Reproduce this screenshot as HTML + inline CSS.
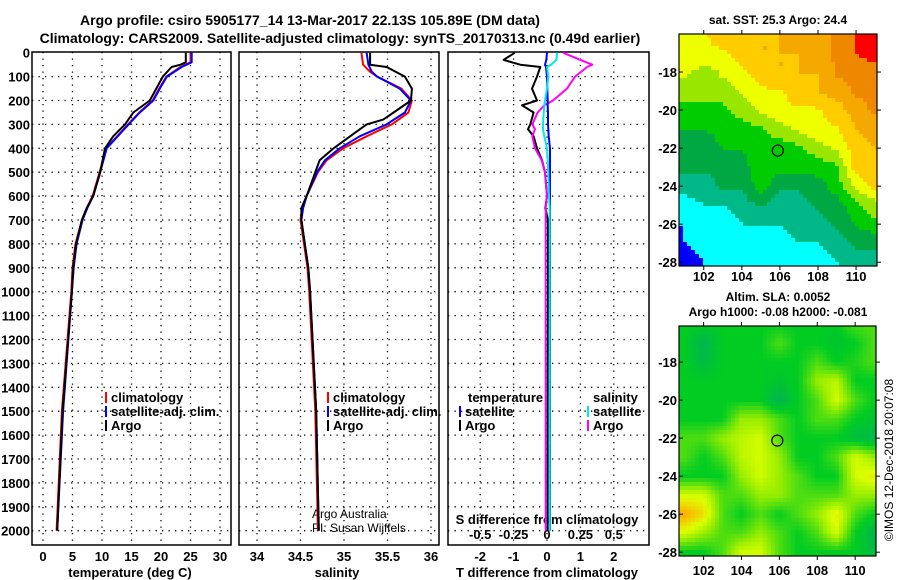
<!DOCTYPE html>
<html><head><meta charset="utf-8"><style>
body{margin:0;background:#fff}
svg{display:block;font-family:"Liberation Sans",sans-serif;font-weight:bold}
</style></head><body>
<svg id="c" width="900" height="580" viewBox="0 0 900 580" xmlns="http://www.w3.org/2000/svg">
<rect width="900" height="580" fill="#fff"/>
<text x="310" y="25" font-size="14" text-anchor="middle">Argo profile: csiro 5905177_14 13-Mar-2017 22.13S 105.89E (DM data)</text>
<text x="340" y="43" font-size="14" text-anchor="middle">Climatology: CARS2009. Satellite-adjusted climatology: synTS_20170313.nc (0.49d earlier)</text>
<text x="778" y="24" font-size="12" text-anchor="middle">sat. SST: 25.3 Argo: 24.4</text>
<text x="778" y="301" font-size="12" text-anchor="middle">Altim. SLA: 0.0052</text>
<text x="778" y="316" font-size="12" text-anchor="middle">Argo h1000: -0.08 h2000: -0.081</text>
<text transform="translate(893,460) rotate(-90)" font-size="12" font-weight="normal" text-anchor="middle">©IMOS 12-Dec-2018 20:07:08</text>
<g id="g"></g>
</svg>
<script>
// ---- data ----
const depthTicks=[0,100,200,300,400,500,600,700,800,900,1000,1100,1200,1300,1400,1500,1600,1700,1800,1900,2000];
const tTicks=[0,5,10,15,20,25,30];
const sTicks=[34,34.5,35,35.5,36];
const sTickLabels=["34","34.5","35","35.5","36"];
const dTicks=[-2,-1,0,1,2];
const dsTicks=[-0.5,-0.25,0,0.25,0.5];
const dsTickLabels=["-0.5","-0.25","0","0.25","0.5"];
const argoTDepth=[0,40,50,60,100,150,200,250,300,350,400,500,600,650,700,800,900,1000,1500,2000];
const argoT=[24.2,24.2,23.3,21.8,20.3,19.2,18.1,15.3,13.9,11.9,10.5,9.7,8.5,7.4,6.6,5.6,5.1,4.9,3.3,2.4];
const satTDepth=[0,40,60,100,150,200,250,300,400,500,600,650,700,800,900,1000,1500,2000];
const satT=[25.2,25.2,23.5,21.0,19.8,18.7,16.4,14.5,10.8,9.7,8.5,7.5,6.7,5.7,5.2,4.9,3.4,2.4];
const climT=[25.0,25.0,23.3,20.9,19.7,18.6,16.3,14.4,10.7,9.6,8.4,7.4,6.6,5.5,5.0,4.8,3.2,2.3];
const argoSDepth=[0,50,60,100,150,200,250,280,300,350,400,450,500,600,650,700,800,900,1000,1500,2000];
const argoS=[35.30,35.30,35.49,35.70,35.78,35.77,35.57,35.45,35.26,35.07,34.88,34.72,34.67,34.57,34.51,34.51,34.55,34.59,34.61,34.68,34.71];
const climSDepth=[0,50,80,100,150,200,250,300,350,400,450,500,600,650,700,800,900,1000,1500,2000];
const satS=[35.26,35.28,35.32,35.38,35.64,35.77,35.70,35.49,35.18,34.95,34.78,34.69,34.57,34.53,34.51,34.55,34.59,34.61,34.68,34.71];
const climS=[35.20,35.22,35.30,35.38,35.66,35.78,35.74,35.55,35.26,34.99,34.80,34.70,34.57,34.52,34.50,34.54,34.58,34.60,34.67,34.70];
const dDepth=[0,30,50,60,100,150,200,220,250,300,320,350,400,450,500,600,650,700,1000,1500,2000];
const argoTdiff=[-0.96,-1.3,-0.8,-0.2,-0.3,-0.45,-0.3,-0.75,-0.4,-0.5,-0.57,-0.4,-0.3,-0.15,-0.06,0,-0.05,0.03,0.03,0.02,0.02];
const argoSdiff=[0.12,0.25,0.34,0.30,0.21,0.15,0.045,-0.02,-0.07,-0.11,-0.09,-0.11,-0.09,-0.04,-0.015,0,-0.01,-0.01,-0.01,-0.01,-0.01];
const satTdiff=[0,-0.02,-0.06,-0.03,0,0.01,0.02,0.02,0.03,0.03,0.04,0.05,0.09,0.09,0.09,0.09,0.09,0.09,0.09,0.09,0.09];
const satSdiff=[0.075,0.07,0.03,0,0.01,0.0,-0.015,-0.02,-0.025,-0.03,-0.03,-0.02,0,0.005,0.01,0.015,0.02,0.02,0.02,0.02,0.02];
const lonTicks=[102,104,106,108,110];
const latTicks=[-18,-20,-22,-24,-26,-28];
const argoLon=105.89, argoLat=-22.13;
const gridLons=[101,102,103,104,105,106,107,108,109,110,111];
const gridLats=[-16,-17,-18,-19,-20,-21,-22,-23,-24,-25,-26,-27,-28];
const sstGrid=[
[5,5,5.5,6,6,6,6.5,6.5,7,7.5,8],
[5,5,5,5.5,6,6,6,6.5,7,7.5,8],
[4.5,4,4.5,5,5.5,6,6,6,7,7,7],
[4,4,4,4.5,5,5,5.5,6,6.5,7,7],
[3.3,3.3,3.5,4,4.5,5,5,5,5.5,6.5,7],
[3,3,3.3,3.3,3.5,4,4.5,5,5,6,6.5],
[2.5,2.5,3,3,3.5,3.3,3.5,4,4.5,5.5,6],
[2.5,2.5,2.5,2.7,3.5,3.3,3.3,3.3,3.5,5.5,6],
[2,2,2.5,2.5,3.3,2.5,2.5,2.7,3.3,4.5,5.5],
[1,1.5,1.5,2,2.5,2,2,2.5,2.7,3.5,4],
[0.5,1,1,1.5,1.5,1.5,2,2,2.5,3,3.5],
[0.5,1,1,1,1,1,1.5,1.5,2,2.5,2.5],
[0,0.5,0.5,1,1,0.5,1,1,1.5,2,2]];
const slaGrid=[
[3,3,3,3,3,3,3,3,3,3.5,3.5],
[3,2.3,3,3,3,3.5,3,3,2.8,3,3.5],
[3,2.5,3,3,3,3,3,3.5,3,3.2,3.5],
[3,3,3,3,3,2.8,3,4,4.3,3,3],
[3,3,3,3,3,2.3,3,3.5,4.5,3.5,3],
[3,3,3,4,4,3.5,3,3.5,3.5,3,2.8],
[3.5,3.5,4,4.3,4.5,3.5,3,3,3,2.6,2.4],
[3.5,3,3.5,4.3,4.5,4,3,3,3.5,4.5,4],
[3,3,3,4,4.5,4,3.5,3,3,4.5,4.8],
[4.5,4.5,3.5,3.5,4,4,3.5,3.5,3.5,4,4],
[5.5,5,3.5,3,3.5,3,3.5,4,4.8,3.5,3],
[4.5,4,3.5,3.5,4,3.5,3,3.5,4.5,3,2.4],
[3,3,3.5,4.5,4.5,3.5,3,3,3,3,2.5]];
// ---- drawing ----
const NS="http://www.w3.org/2000/svg", G=document.getElementById('g');
function mk(t,a,p){const e=document.createElementNS(NS,t);for(const k in a)e.setAttribute(k,a[k]);(p||G).appendChild(e);return e;}
const TOP=52,BOT=545;
const yD=d=>52.7+d*0.239;
const xT=v=>43+v*5.9;
const xS=v=>257+(v-34)*87;
const xDT=v=>547+v*33.4;
const xDS=v=>547+v*133.6;
function panelFrame(x0,x1,name,vx){
  const g=mk('g',{});
  
  
  depthTicks.forEach(d=>{if(d>0){const l=mk('line',{x1:x0,x2:x1,y1:yD(d),y2:yD(d),stroke:'#000','stroke-width':1.3,'stroke-dasharray':'1.3 5.2'},g);
    }});
  vx.forEach(x=>{const l=mk('line',{x1:x,x2:x,y1:TOP,y2:BOT,stroke:'#000','stroke-width':1.3,'stroke-dasharray':'1.3 5.2'},g);
    });
  const r=mk('rect',{x:x0,y:TOP,width:x1-x0,height:BOT-TOP,fill:'none',stroke:'#000','stroke-width':1.5},g);
  
  return g;
}
panelFrame(32,231,'temperature-panel',tTicks.map(xT));
panelFrame(239,439,'salinity-panel',sTicks.map(xS));
panelFrame(448,649,'difference-panel',dTicks.map(xDT));
depthTicks.forEach(d=>{const t=mk('text',{x:30,y:yD(d)+5,'font-size':13,'text-anchor':'end'});t.textContent=d;
  });
function axisLabels(ticks,labels,fx,y,nm){ticks.forEach((v,i)=>{const t=mk('text',{x:fx(v),y:y,'font-size':13,'text-anchor':'middle'});t.textContent=labels[i];
  });}
axisLabels(tTicks,tTicks.map(String),xT,561,'temperature-tick-label');
axisLabels(sTicks,sTickLabels,xS,561,'salinity-tick-label');
axisLabels(dTicks,dTicks.map(String),xDT,561,'t-diff-tick-label');
axisLabels(dsTicks,dsTickLabels,xDS,539,'s-diff-tick-label');
function label(x,y,txt,nm,sz,anchor,w){const t=mk('text',{x:x,y:y,'font-size':sz||13,'text-anchor':anchor||'middle'});if(w)t.setAttribute('font-weight',w);t.textContent=txt;
  return t;}
label(130,577,'temperature (deg C)','x-axis-title-temperature');
label(337,577,'salinity','x-axis-title-salinity');
label(547,577,'T difference from climatology','x-axis-title-t-diff');
label(547,524,'S difference from climatology','x-axis-title-s-diff');
label(312,518,'Argo Australia','credit-argo-australia',12,'start','normal');
label(312,532,'PI: Susan Wijffels','credit-pi',12,'start','normal');
function line(fx,vals,depths,col,nm){
  const pts=vals.map((v,i)=>fx(v).toFixed(1)+','+yD(depths[i]).toFixed(1)).join(' ');
  const p=mk('polyline',{points:pts,fill:'none',stroke:col,'stroke-width':2,'stroke-linejoin':'round'});
  }
line(xT,climT,satTDepth,'#ff0000','climatology-temperature-line');
line(xT,satT,satTDepth,'#0000ff','satellite-temperature-line');
line(xT,argoT,argoTDepth,'#000','argo-temperature-line');
line(xS,climS,climSDepth,'#ff0000','climatology-salinity-line');
line(xS,satS,climSDepth,'#0000ff','satellite-salinity-line');
line(xS,argoS,argoSDepth,'#000','argo-salinity-line');
line(xDT,argoTdiff,dDepth,'#000','argo-t-diff-line');
line(xDS,argoSdiff,dDepth,'#ff00ff','argo-s-diff-line');
line(xDT,satTdiff,dDepth,'#0000ff','satellite-t-diff-line');
line(xDS,satSdiff,dDepth,'#00e8e8','satellite-s-diff-line');
function legend(x,y,col,txt,nm){const g=mk('g',{});
  if(col)mk('rect',{x:x,y:y-10,width:2,height:11,fill:col},g);
  const t=mk('text',{x:x+6,y:y,'font-size':13},g);t.textContent=txt;}
legend(105,402,'#ff0000','climatology','legend-climatology');
legend(105,416,'#0000ff','satellite-adj. clim.','legend-satellite-adj');
legend(105,430,'#000','Argo','legend-argo');
legend(327,402,'#ff0000','climatology','legend-climatology-s');
legend(327,416,'#0000ff','satellite-adj. clim.','legend-satellite-adj-s');
legend(327,430,'#000','Argo','legend-argo-s');
legend(462,402,null,'temperature','legend-temperature-header');
legend(459,416,'#0000ff','satellite','legend-t-satellite');
legend(459,430,'#000','Argo','legend-t-argo');
legend(587,402,null,'salinity','legend-salinity-header');
legend(587,416,'#00e8e8','satellite','legend-s-satellite');
legend(587,430,'#ff00ff','Argo','legend-s-argo');
// ---- maps ----
function bil(grid,lon,lat){
  let fx=(lon-gridLons[0]);fx=Math.max(0,Math.min(gridLons.length-1.001,fx));
  let fy=(gridLats[0]-lat);fy=Math.max(0,Math.min(gridLats.length-1.001,fy));
  const i=Math.floor(fx),j=Math.floor(fy),a=fx-i,b=fy-j;
  return grid[j][i]*(1-a)*(1-b)+grid[j][i+1]*a*(1-b)+grid[j+1][i]*(1-a)*b+grid[j+1][i+1]*a*b;}
const sstStops=[[0,'#0000ff'],[1,'#00ffff'],[2,'#00b888'],[2.7,'#00a844'],[3.3,'#00cc00'],[4,'#99e600'],[4.7,'#eeff00'],[5.5,'#ffcc00'],[6.5,'#f5a800'],[7.2,'#ee8800'],[7.8,'#ff0000']];
function sstCol(v){let best=sstStops[0];sstStops.forEach(s=>{if(Math.abs(s[0]-v)<Math.abs(best[0]-v))best=s;});return best[1];}
const slaStops=[[2,[0,170,102]],[3,[0,204,34]],[4,[153,238,0]],[4.6,[221,255,0]],[5.5,[255,170,0]]];
function slaCol(v){v=Math.max(2,Math.min(5.5,v));for(let k=0;k<slaStops.length-1;k++){const a=slaStops[k],b=slaStops[k+1];if(v<=b[0]){const t=(v-a[0])/(b[0]-a[0]);
  return 'rgb('+a[1].map((c,i)=>Math.round(c+(b[1][i]-c)*t)).join(',')+')';}}return 'rgb(255,170,0)';}
function map(x0,x1,y0,y1,latTop,latBot,grid,colf,cell,nm,lonY){
  const lon0=100.7,lon1=111.1;
  const lx=l=>x0+(l-lon0)/(lon1-lon0)*(x1-x0);
  const ly=l=>y0+(latTop-l)/(latTop-latBot)*(y1-y0);
  const g=mk('g',{});
  for(let y=y0;y<y1;y+=cell)for(let x=x0;x<x1;x+=cell){
    const lon=lon0+(x+cell/2-x0)/(x1-x0)*(lon1-lon0),lat=latTop-(y+cell/2-y0)/(y1-y0)*(latTop-latBot);
    const r=mk('rect',{x:x,y:y,width:Math.min(cell,x1-x)+0.3,height:Math.min(cell,y1-y)+0.3,fill:colf(bil(grid,lon,lat))},g);
    }
  mk('rect',{x:x0,y:y0,width:x1-x0,height:y1-y0,fill:'none',stroke:'#000','stroke-width':1.2},g);
  const c=mk('circle',{cx:lx(argoLon),cy:ly(argoLat),r:5.5,fill:'none',stroke:'#000','stroke-width':1.2},g);
  
  latTicks.forEach(l=>{mk('line',{x1:x1,x2:x1+4,y1:ly(l),y2:ly(l),stroke:'#000'},g);mk('line',{x1:x0,x2:x0+4,y1:ly(l),y2:ly(l),stroke:'#000'},g);
    const t=mk('text',{x:x0-2,y:ly(l)+5,'font-size':13,'text-anchor':'end'},g);t.textContent=l;
    });
  lonTicks.forEach(l=>{mk('line',{x1:lx(l),x2:lx(l),y1:y1,y2:y1+4,stroke:'#000'},g);mk('line',{x1:lx(l),x2:lx(l),y1:y0,y2:y0-4,stroke:'#000'},g);
    const t=mk('text',{x:lx(l),y:lonY,'font-size':13,'text-anchor':'middle'},g);t.textContent=l;
    });
}
map(679,877,34,266,-16,-28.2,sstGrid,sstCol,4,'sst-map',281);
map(679,876,326,556,-16.1,-28.2,slaGrid,slaCol,4,'sla-map',575);
</script>
</body></html>
